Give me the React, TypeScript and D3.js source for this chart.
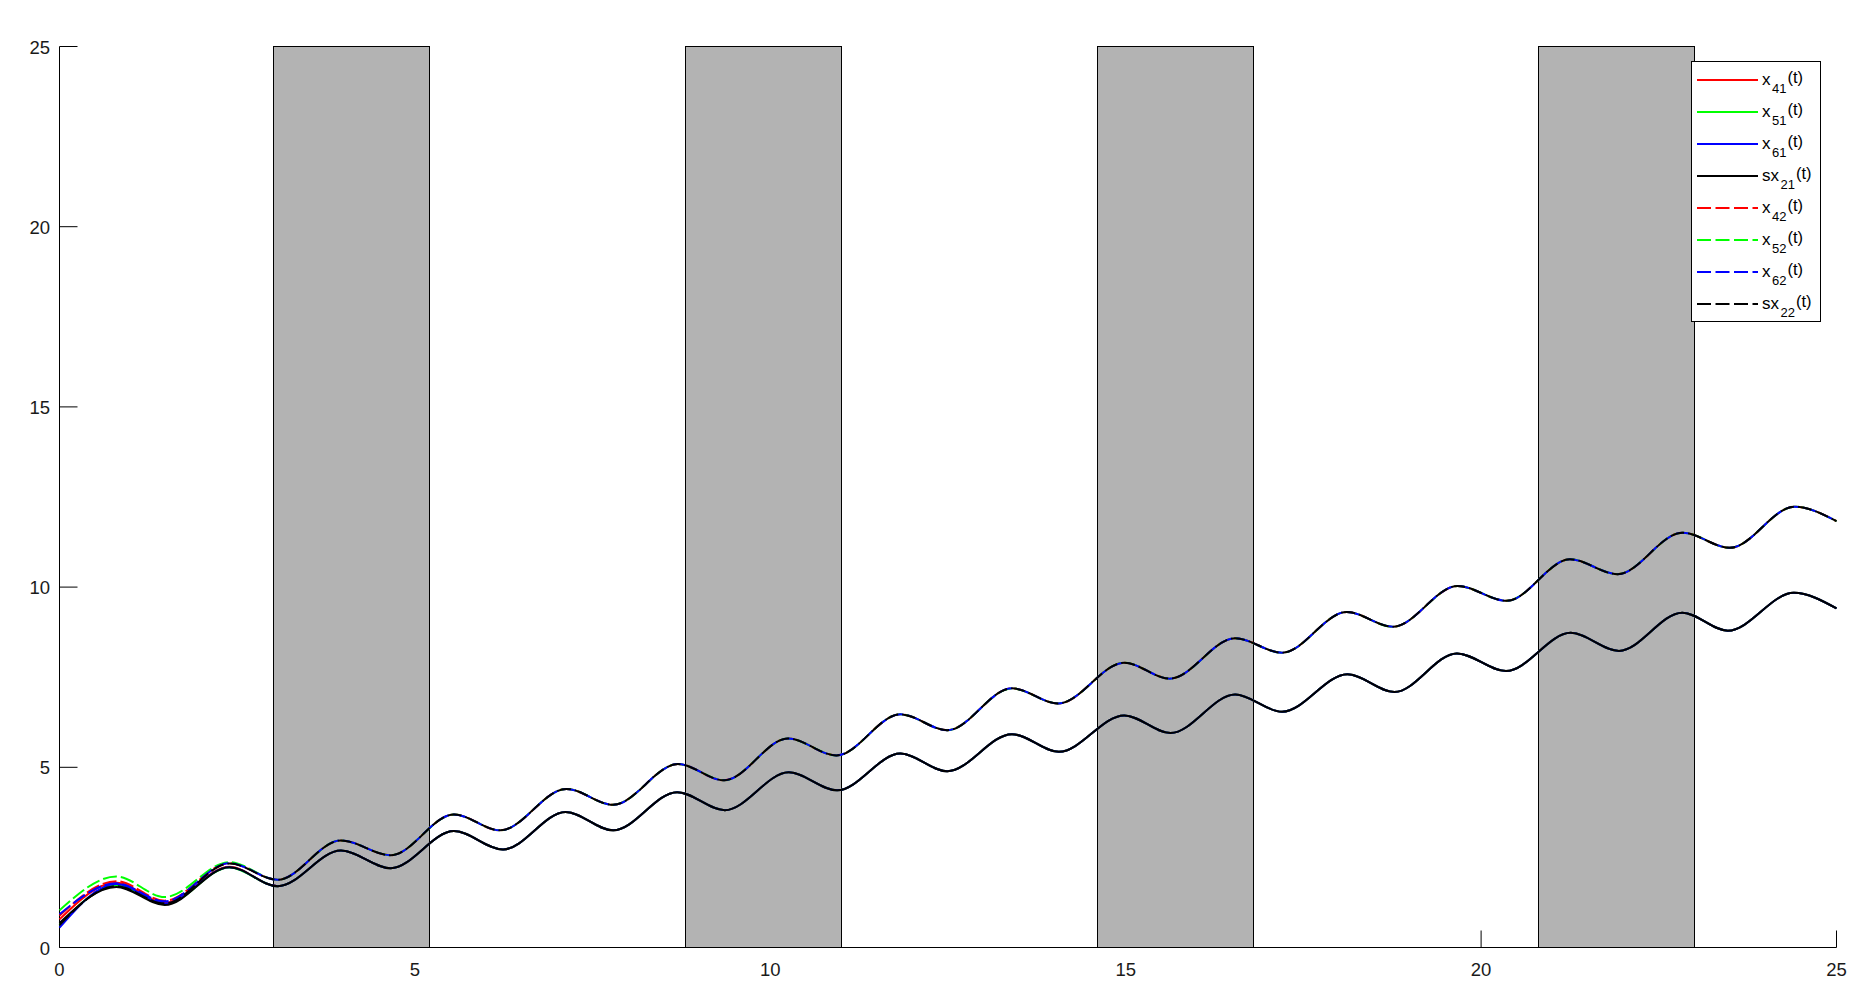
import React from "react"
import * as d3 from "d3"

// time of the first extremes (shared by every series)
const headT = [0, 0.8, 1.48, 2.39]

// start of each series, before they merge into two bundles
const headX41 = [0.78, 1.80, 1.24, 2.24]
const headX51 = [0.62, 1.72, 1.20, 2.22]
const headX61 = [0.55, 1.76, 1.22, 2.23]
const headSx21 = [0.68, 1.68, 1.18, 2.23]
const headX42 = [0.88, 1.84, 1.30, 2.34]
const headX52 = [1.03, 1.97, 1.40, 2.37]
const headX62 = [0.92, 1.78, 1.28, 2.34]
const headSx22 = [0.62, 1.70, 1.22, 2.33]

// solid bundle (x41, x51, x61, sx21) : troughs and peaks
const solidT = [3.07, 3.96, 4.66, 5.55, 6.24, 7.12, 7.79, 8.69, 9.36, 10.26, 10.94, 11.83, 12.49, 13.40, 14.06, 14.98, 15.63, 16.54, 17.20, 18.12, 18.78, 19.66, 20.35, 21.26, 21.94, 22.83, 23.47, 24.40, 25]
const solidV = [1.70, 2.69, 2.20, 3.23, 2.72, 3.76, 3.25, 4.31, 3.81, 4.86, 4.36, 5.38, 4.89, 5.92, 5.43, 6.44, 5.95, 7.02, 6.54, 7.58, 7.09, 8.16, 7.67, 8.73, 8.23, 9.29, 8.79, 9.84, 9.41]

// dashed bundle (x42, x52, x62, sx22)
const dashT = [3.07, 3.96, 4.66, 5.55, 6.20, 7.13, 7.79, 8.70, 9.35, 10.25, 10.93, 11.83, 12.49, 13.40, 14.05, 14.98, 15.62, 16.54, 17.20, 18.11, 18.76, 19.67, 20.36, 21.25, 21.92, 22.83, 23.50, 24.41, 25]
const dashV = [1.88, 2.97, 2.56, 3.69, 3.25, 4.40, 3.96, 5.09, 4.64, 5.80, 5.33, 6.47, 6.03, 7.19, 6.77, 7.90, 7.46, 8.58, 8.18, 9.31, 8.90, 10.03, 9.62, 10.77, 10.36, 11.51, 11.09, 12.23, 11.83]

// shaded intervals
const shadeStart = [3, 8.8, 14.6, 20.8]
const shadeEnd = [5.2, 11, 16.8, 23]

const xTicks = [0, 5, 10, 15, 20, 25]
const yTicks = [0, 5, 10, 15, 20, 25]

const series = [
  { pre: "x", sub: "41", head: headX41, tail: "solid", color: "#ff0000", dash: false },
  { pre: "x", sub: "51", head: headX51, tail: "solid", color: "#00ff00", dash: false },
  { pre: "x", sub: "61", head: headX61, tail: "solid", color: "#0000ff", dash: false },
  { pre: "sx", sub: "21", head: headSx21, tail: "solid", color: "#000000", dash: false },
  { pre: "x", sub: "42", head: headX42, tail: "dash", color: "#ff0000", dash: true },
  { pre: "x", sub: "52", head: headX52, tail: "dash", color: "#00ff00", dash: true },
  { pre: "x", sub: "62", head: headX62, tail: "dash", color: "#0000ff", dash: true },
  { pre: "sx", sub: "22", head: headSx22, tail: "dash", color: "#000000", dash: true },
]

const W = 1873
const H = 1004

export default function App() {
  const x = d3.scaleLinear().domain([0, 25]).range([59.5, 1836.5])
  const y = d3.scaleLinear().domain([0, 25]).range([947.5, 46.5])

  const line = d3.line<[number, number]>()
    .curve(d3.curveMonotoneX)
    .x(d => x(d[0]))
    .y(d => y(d[1]))

  const pts = (s) => {
    const tT = s.tail == "solid" ? solidT : dashT
    const tV = s.tail == "solid" ? solidV : dashV
    const a: [number, number][] = headT.map((t, i) => [t, s.head[i]])
    return a.concat(tT.map((t, i) => [t, tV[i]] as [number, number]))
  }

  const font = "'Liberation Sans', Arial, Helvetica, sans-serif"
  const lgX = 1691.5, lgY = 61.5, lgW = 129, lgH = 260

  return (
    <svg width={W} height={H} style={{ position: "absolute", left: 0, top: 0, background: "#fff" }}
      fontFamily={font}>
      <rect x={0} y={0} width={W} height={H} fill="#fff" />
      {/* axes */}
      <g stroke="#000" strokeWidth={1} fill="none">
        <line x1={x(0)} x2={x(0)} y1={y(0)} y2={y(25)} />
        <line x1={x(0)} x2={x(25)} y1={y(0)} y2={y(0)} />
        {yTicks.map(t => <line key={"yt" + t} x1={x(0)} x2={x(0) + 18} y1={y(t)} y2={y(t)} />)}
        {xTicks.map(t => <line key={"xt" + t} x1={x(t)} x2={x(t)} y1={y(0)} y2={y(0) - 17} />)}
      </g>
      <g fontSize={18.5} fill="#1a1a1a">
        {yTicks.map(t => <text key={"yl" + t} x={50} y={y(t) + 7} textAnchor="end">{t}</text>)}
        {xTicks.map(t => <text key={"xl" + t} x={x(t)} y={976} textAnchor="middle">{t}</text>)}
      </g>
      {/* shaded intervals */}
      <g fill="#b3b3b3" stroke="#000" strokeWidth={1}>
        {shadeStart.map((s, i) => (
          <rect key={"sh" + i} x={Math.round(x(s)) + 0.5} y={y(25)}
            width={Math.round(x(shadeEnd[i]) - x(s))} height={y(0) - y(25)} />
        ))}
      </g>
      {/* curves */}
      <g fill="none" strokeWidth={2}>
        {series.map((s, i) => (
          <path key={"p" + i} d={line(pts(s)) || ""} stroke={s.color}
            strokeDasharray={s.dash ? "14,4" : undefined} />
        ))}
      </g>
      {/* legend */}
      <rect x={lgX} y={lgY} width={lgW} height={lgH} fill="#fff" stroke="#000" strokeWidth={1} />
      {series.map((s, i) => {
        const ly = 80 + i * 32
        return (
          <g key={"lg" + i}>
            <line x1={1697} x2={1758} y1={ly} y2={ly} stroke={s.color} strokeWidth={2}
              strokeDasharray={s.dash ? "14,4.5" : undefined} />
            <text x={1762} y={ly + 5} fontSize={17} fill="#000">
              {s.pre}
              <tspan fontSize={13} dx={1.5} dy={8}>{s.sub}</tspan>
              <tspan fontSize={16.5} dx={1} dy={-10}>(t)</tspan>
            </text>
          </g>
        )
      })}
    </svg>
  )
}
